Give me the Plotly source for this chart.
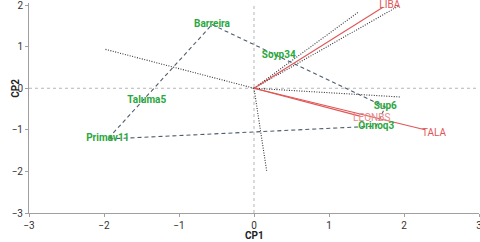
import plotly.graph_objects as go

# Genotype scores (green labels)
genotypes = ["Barreira", "Soyp34", "Taluma5", "Primav11", "Sup6", "Orinoq3"]
geno_x = [-0.56, 0.33, -1.43, -1.95, 1.75, 1.63]
geno_y = [1.53, 0.79, -0.29, -1.22, -0.45, -0.91]

# Convex hull of genotypes (dashed)
hull = ["Barreira", "Sup6", "Orinoq3", "Primav11", "Barreira"]

# Environment vectors (red)
envs = ["LIBA", "LEONBS", "TALA"]
env_x = [1.72, 1.41, 2.28]
env_y = [1.95, -0.67, -1.0]
env_label_x = [1.81, 1.57, 2.4]
env_label_y = [1.99, -0.72, -1.08]

# Perpendicular / sector lines (black dotted)
sect_x = [-1.99, 0.17, 1.95, 1.39, 1.93]
sect_y = [0.94, -2.0, -0.21, 1.83, 1.98]

x_ticks = [-3, -2, -1, 0, 1, 2, 3]
y_ticks = [-3, -2, -1, 0, 1, 2]

FONT = "Roboto"
GREEN = "#2aa83c"
RED = "#e05555"
HULL = "#4e5d6c"

fig = go.Figure()

# reference lines
fig.add_hline(y=0, line=dict(color="#b5b5b5", width=1, dash="3px,3px"), layer="below")
fig.add_vline(x=0, line=dict(color="#b5b5b5", width=1, dash="3px,3px"), layer="below")

# dotted sector lines
for sx, sy in zip(sect_x, sect_y):
    fig.add_trace(go.Scatter(x=[0, sx], y=[0, sy], mode="lines",
                             line=dict(color="#333333", width=1.1, dash="1px,1.5px"),
                             hoverinfo="skip", showlegend=False))

# hull
idx = {g: i for i, g in enumerate(genotypes)}
fig.add_trace(go.Scatter(x=[geno_x[idx[h]] for h in hull],
                         y=[geno_y[idx[h]] for h in hull],
                         mode="lines", line=dict(color=HULL, width=1.1, dash="4px,3px"),
                         hoverinfo="skip", showlegend=False))

# environment vectors
for ex, ey in zip(env_x, env_y):
    fig.add_trace(go.Scatter(x=[0, ex], y=[0, ey], mode="lines",
                             line=dict(color=RED, width=1.1),
                             hoverinfo="skip", showlegend=False))
fig.add_trace(go.Scatter(x=env_label_x, y=env_label_y, mode="text", text=envs,
                         textposition="middle center", cliponaxis=False,
                         textfont=dict(family=FONT, size=10, color=[RED, "#e88a8a", RED]),
                         showlegend=False))

# genotype labels
fig.add_trace(go.Scatter(x=geno_x, y=geno_y, mode="text",
                         text=["<b>%s</b>" % g for g in genotypes],
                         textposition="middle center", cliponaxis=False,
                         textfont=dict(family=FONT, size=10, color=GREEN),
                         showlegend=False))

axis_common = dict(showgrid=False, zeroline=False, showline=True, linecolor="#a0a0a0",
                   linewidth=1, ticks="outside", ticklen=3, tickcolor="#a0a0a0",
                   automargin=False, ticklabeloverflow="allow",
                   tickfont=dict(family=FONT, size=10, color="#333333"))

fig.update_layout(
    width=480, height=242,
    margin=dict(l=29, r=1, t=3, b=29),
    plot_bgcolor="white", paper_bgcolor="white",
    xaxis=dict(range=[-3, 3], tickvals=x_ticks, **axis_common),
    yaxis=dict(range=[-3, 2.05], tickvals=y_ticks, **axis_common),
    annotations=[
        dict(text="<b>CP1</b>", xref="paper", yref="paper", x=0.5, y=0, yshift=-30,
             showarrow=False, font=dict(family=FONT, size=10, color="#222222")),
        dict(text="<b>CP2</b>", xref="paper", yref="y", x=0, y=0, xshift=-21, textangle=-90,
             showarrow=False, font=dict(family=FONT, size=10, color="#222222")),
    ],
)

fig.write_html("out.html", config={"displayModeBar": False},
               post_script="document.body.style.margin='0';")
